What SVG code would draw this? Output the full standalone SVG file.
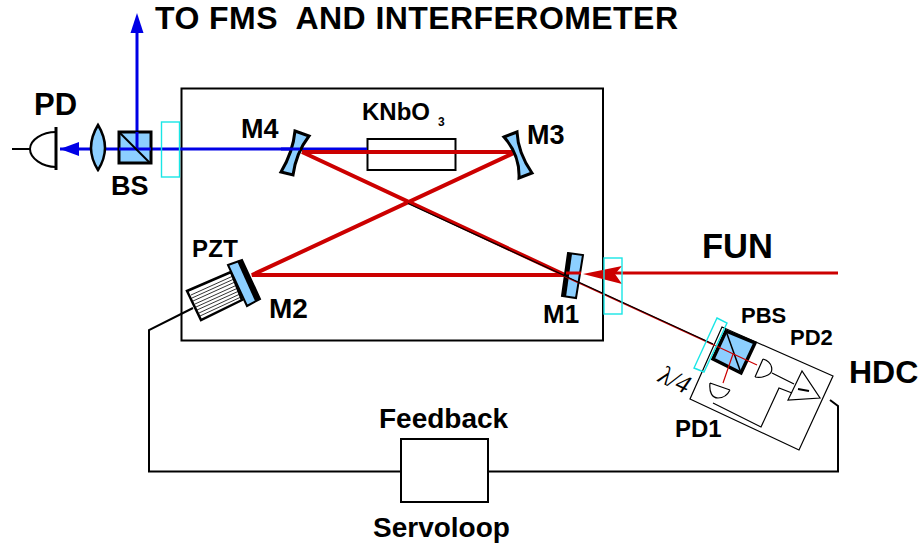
<svg xmlns="http://www.w3.org/2000/svg" width="923" height="547" viewBox="0 0 923 547">
<style>
text{font-family:"Liberation Sans",Arial,sans-serif;font-weight:bold;fill:#000}
.k{fill:none;stroke:#000;stroke-width:2}
.t{fill:none;stroke:#000;stroke-width:1.2}
.o{fill:#8ccfff;stroke:#000;stroke-width:3}
.c{fill:none;stroke:#19e6e6;stroke-width:1.4}
.r{fill:none;stroke:#cc0000;stroke-width:4}
.b{fill:none;stroke:#0000e6;stroke-width:3}
</style>
<defs>
<marker id="ab" markerUnits="userSpaceOnUse" markerWidth="20" markerHeight="16" refX="19" refY="7" orient="auto"><path d="M0 0L19 7L0 14Z" fill="#0000e6"/></marker>
</defs>
<rect width="923" height="547" fill="#fff"/>
<g id="cavity"><rect x="181.500" y="88.500" width="421.500" height="252" class="k"/></g>
<g id="crystal"><rect x="367.500" y="139" width="88" height="31" class="k" fill="#fff"/><text x="362" y="120" font-size="24">KNbO</text><text x="438" y="126" font-size="12">3</text></g>
<g id="connectors">
<path class="k" d="M830 400L838 406V471.500H488M401 471.500H149V330L193 308"/>
<path class="b" d="M137 149V28"/><path d="M137 13L143.500 33H130.500Z" fill="#0000e6"/>
<path class="b" d="M367 149H60" marker-end="url(#ab)"/>
<path class="r" d="M302 152H516L252 275H565L302 152"/>
<path d="M563 275.500L713 344.500" fill="none" stroke="#cc0000" stroke-width="1.500"/>
<path d="M408 203.500L713 344" fill="none" stroke="#000" stroke-width="1.200"/>
<path d="M838 273H600" fill="none" stroke="#cc0000" stroke-width="3"/><path d="M583 274L622 266L615 274L622 284Z" fill="#cc0000"/>
</g>
<g id="pd"><path class="k" d="M12 149H30C30 140 42 132 56 132M30 149C30 158 42 167 56 167"/><path d="M56 127V170" stroke="#000" stroke-width="3"/><text x="34" y="115" font-size="31">PD</text></g>
<g id="lens"><path class="o" d="M98 125Q84 148 98 170Q112 148 98 125Z" style="stroke-width:2.500"/></g>
<g id="bs"><rect x="119" y="132" width="32" height="31" class="o"/><path class="b" d="M137 132V149"/><path class="b" d="M119 149H151"/><path d="M119 132L150 163" stroke="#000" stroke-width="2"/><text x="111" y="195" font-size="27">BS</text></g>
<g id="windows"><rect x="161.500" y="122" width="18" height="55" class="c"/><rect x="604" y="258" width="18" height="56" class="c"/></g>
<g id="m4"><path class="o" d="M295 131L309 136Q296 153 293 175L281 172Q293 152 295 131Z"/><path class="b" d="M281 149H300"/><text x="241" y="138" font-size="27">M4</text></g>
<g id="m3"><path class="o" d="M504 137L517 132Q518 153 532 173L519 178Q520 155 504 137Z"/><text x="527" y="144" font-size="27">M3</text></g>
<g id="m1"><path d="M568 253L583 255L576 298L562 296Z" fill="#8ccfff" stroke="#000" stroke-width="2"/><path d="M568 253L572 254L566 297L562 296Z" fill="#000"/><path d="M566 273H581" stroke="#cc0000" stroke-width="3"/><path d="M563 275.500L578 282.500" stroke="#cc0000" stroke-width="1.500"/><path d="M563 275L578 282" stroke="#000" stroke-width="1.200"/><text x="543" y="323" font-size="26">M1</text></g>
<g id="m2"><path d="M187 291L231 272L242 300L201 320Z" fill="#fff" stroke="#000" stroke-width="2.500"/>
<path class="t" d="M191 295L233 276M192 298L234 279M193 301L235 282M195 304L237 285M196 307L238 288M197 310L239 291M199 313L240 294M200 316L241 297" style="stroke-width:.8"/>
<path d="M228 265L242 260L260 299L247 306Z" fill="#8ccfff" stroke="#000" stroke-width="2"/><path d="M237 261L242 260L260 299L255 301Z" fill="#000"/>
<text x="192" y="257" font-size="24" textLength="46">PZT</text><text x="269" y="318" font-size="28">M2</text></g>
<g id="hdc">
<path class="t" d="M722 327L833 376L799 450L690 399Z"/>
<path d="M726 331L755 343L741 373L713 359Z" fill="#8ccfff" stroke="#000" stroke-width="3.500"/>
<path d="M726 331L741 373" stroke="#000" stroke-width="1.500"/>
<path d="M713 344.500L757 365M733 354L723 383" stroke="#cc0000" stroke-width="1.200" fill="none"/>
<path d="M717 318L727 323L704 372L694 368Z" class="c"/>
<path class="t" d="M763 359L755 377M763 359C773 362 774 372 768 375C764 377 759 378 755 377M710 383L730 390M710 383C709 392 712 398 718 398C724 398 728 394 730 390M772 373L794 384M713 403L761 427L779 388L792 393"/>
<path class="t" d="M802 371L788 400L820 398Z"/><path d="M798 389L809 391" stroke="#000" stroke-width="2"/>
<text x="741" y="323" font-size="22">PBS</text><text x="790" y="345" font-size="22">PD2</text><text x="675" y="437" font-size="24">PD1</text><text x="849" y="383" font-size="32">HDC</text>
<text x="0" y="0" transform="translate(657 381) rotate(25)" font-size="26" style="font-family:'Liberation Serif',serif;font-weight:normal;font-style:italic">λ/4</text>
</g>
<g id="feedback"><rect x="401" y="439" width="87" height="63" class="k"/><text x="379" y="428" font-size="28">Feedback</text><text x="373" y="537" font-size="28">Servoloop</text></g>
<text x="155" y="29" font-size="32" textLength="523" xml:space="preserve">TO FMS  AND INTERFEROMETER</text>
<text x="702" y="258" font-size="34.500">FUN</text>
</svg>
